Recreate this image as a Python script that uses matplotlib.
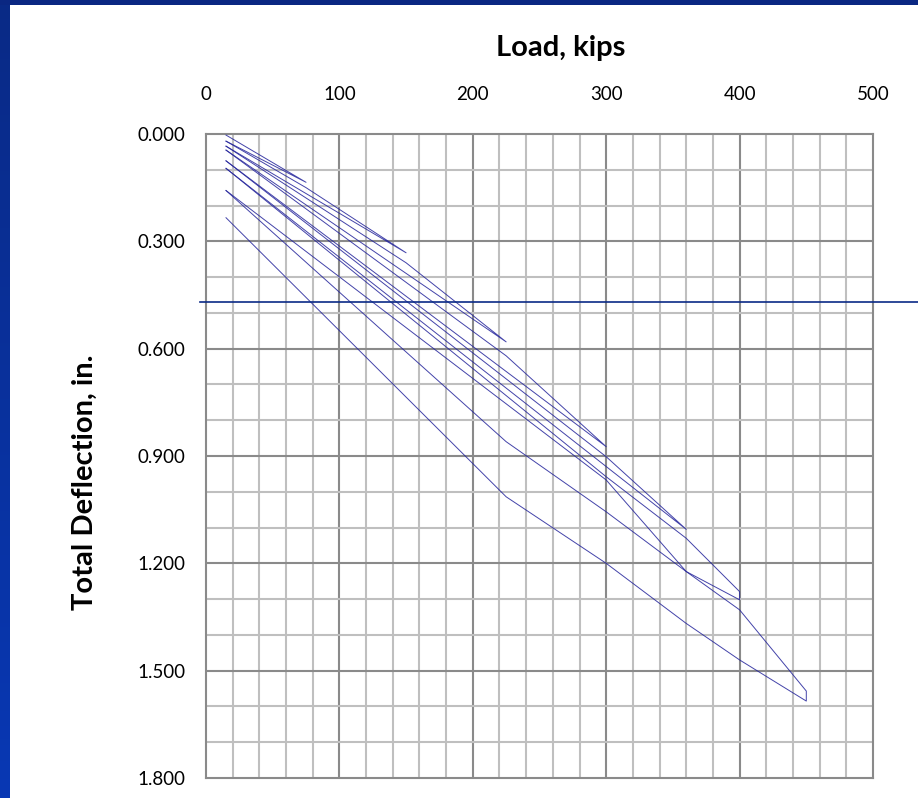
import matplotlib
matplotlib.use("Agg")
import matplotlib.pyplot as plt
import numpy as np
from matplotlib.colors import LinearSegmentedColormap

# load test cycles: load [kips] and total deflection [in.]
load_c1 = [15, 75, 15]
defl_c1 = [0.003, 0.135, 0.020]
load_c2 = [15, 75, 150, 15]
defl_c2 = [0.020, 0.150, 0.332, 0.034]
load_c3 = [15, 150, 225, 15]
defl_c3 = [0.034, 0.360, 0.581, 0.045]
load_c4 = [15, 225, 300, 15]
defl_c4 = [0.045, 0.620, 0.874, 0.075]
load_c5 = [15, 300, 360, 15]
defl_c5 = [0.075, 0.902, 1.105, 0.096]
load_c6 = [15, 300, 360, 400, 400, 360, 300, 15]
defl_c6 = [0.096, 0.958, 1.130, 1.279, 1.302, 1.223, 0.967, 0.158]
load_c7 = [15, 225, 300, 360, 400, 450, 450, 400, 360, 300, 225, 15]
defl_c7 = [0.158, 0.860, 1.056, 1.223, 1.330, 1.557, 1.585, 1.470, 1.368, 1.200, 1.014, 0.234]

cycles = [(load_c1, defl_c1), (load_c2, defl_c2), (load_c3, defl_c3),
          (load_c4, defl_c4), (load_c5, defl_c5), (load_c6, defl_c6),
          (load_c7, defl_c7)]

x_ticks = [0, 100, 200, 300, 400, 500]
y_ticks = [0.0, 0.3, 0.6, 0.9, 1.2, 1.5, 1.8]

W, H = 918, 798
fig = plt.figure(figsize=(W / 100, H / 100), dpi=100)
fig.patch.set_facecolor("white")

# blue slide frame (left and top strips)
axl = fig.add_axes([0, 0, 10 / W, 1])
grad = np.linspace(0, 1, 256).reshape(-1, 1)
cm_blue = LinearSegmentedColormap.from_list("b", ["#0a2a86", "#0838b4"])
axl.imshow(grad, aspect="auto", cmap=cm_blue, extent=[0, 1, 0, 1], origin="upper")
axl.axis("off")
axt = fig.add_axes([0, 1 - 5 / H, 1, 5 / H])
axt.set_facecolor("#0a2782")
axt.set_xticks([]); axt.set_yticks([])
for s in axt.spines.values():
    s.set_visible(False)

ax = fig.add_axes([206 / W, 1 - 778 / H, 667 / W, 644 / H])
ax.set_xlim(0, 500)
ax.set_ylim(1.8, 0)

# grid
for xv in np.arange(20, 500, 20):
    major = xv % 100 == 0
    ax.axvline(xv, color="#8a8a8a" if major else "#bfbfbf", lw=1.5, zorder=1)
for yv in np.arange(0.1, 1.8, 0.1):
    major = abs(yv / 0.3 - round(yv / 0.3)) < 1e-6
    ax.axhline(yv, color="#8a8a8a" if major else "#bfbfbf", lw=1.5, zorder=1)

for ld, df in cycles:
    ax.plot(ld, df, color="#22229a", lw=0.7, alpha=0.85, zorder=3)

ax.xaxis.tick_top()
ax.set_xticks(x_ticks)
ax.set_xticklabels([str(v) for v in x_ticks], fontsize=13.5, fontfamily="Lato")
ax.set_yticks(y_ticks)
ax.set_yticklabels(["%.3f" % v for v in y_ticks], fontsize=13.5, fontfamily="Lato")
ax.tick_params(axis="both", length=0)
ax.tick_params(axis="x", pad=22)
ax.tick_params(axis="y", pad=15)
ax.text(0.532, 1.1335, "Load, kips", transform=ax.transAxes, ha="center", va="center",
        fontsize=21, fontweight="bold", fontfamily="Lato")
ax.text(-0.1814, 0.4596, "Total Deflection, in.", transform=ax.transAxes, ha="center",
        va="center", rotation=90, fontsize=21, fontweight="bold", fontfamily="Lato")
for s in ax.spines.values():
    s.set_color("#8a8a8a")
    s.set_linewidth(1.5)

# divider line across the slide
fig.add_artist(plt.Line2D([200 / W, 1], [1 - 301.5 / H, 1 - 301.5 / H],
                          color="#0a2a86", lw=1.2))

fig.savefig("out.png", dpi=100)
